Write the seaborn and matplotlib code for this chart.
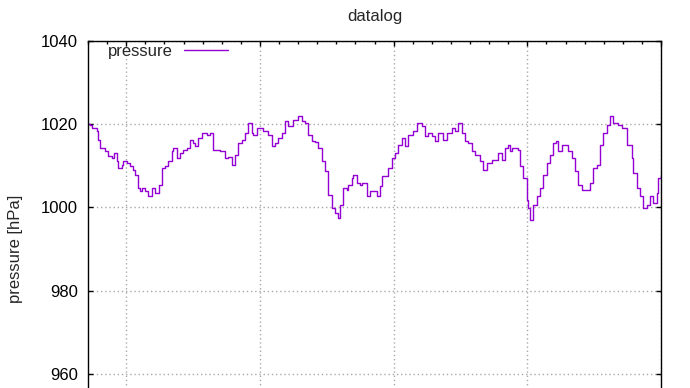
import matplotlib
matplotlib.use("Agg")
import matplotlib.pyplot as plt
from matplotlib.ticker import MultipleLocator
import seaborn as sns
import pandas as pd

# time axis (arbitrary units; major tick every 7, minor every 1)
t = [-1.99, -1.88, -1.78, -1.52, -1.47, -1.36, -1.20, -1.10, -0.94, -0.73,
     -0.63, -0.47, -0.42, -0.21, -0.16, 0.05, 0.21, 0.37, 0.47, 0.63,
     0.73, 0.84, 0.99, 1.15, 1.36, 1.52, 1.73, 1.88, 2.04, 2.20,
     2.41, 2.46, 2.67, 2.83, 2.98, 3.19, 3.35, 3.51, 3.61, 3.77,
     3.98, 4.24, 4.40,
     4.55, 4.92, 5.18, 5.34, 5.55, 5.71, 5.86, 6.07, 6.23, 6.39,
     6.60, 6.65, 6.86, 7.02, 7.17, 7.38, 7.43, 7.64, 7.80, 7.96,
     8.17, 8.32, 8.48, 8.69, 8.74, 9.01, 9.21, 9.37, 9.53, 9.74,
     9.90, 10.05, 10.26, 10.42, 10.58, 10.79, 10.94, 11.10, 11.20, 11.36,
     11.57, 11.62, 11.83, 11.88, 12.09, 12.25,
     12.36, 12.62, 12.77, 12.93, 13.14, 13.30, 13.40, 13.56, 13.72, 13.93,
     14.08, 14.24, 14.45, 14.61, 14.76, 15.03, 15.24, 15.50, 15.65, 15.81,
     16.02, 16.18, 16.34, 16.60, 16.81, 17.07, 17.23, 17.38, 17.59, 17.75,
     17.91, 18.12, 18.27, 18.43, 18.53, 18.69, 18.90, 19.16, 19.32, 19.48,
     19.69, 19.84, 20.00,
     20.10, 20.21, 20.37, 20.52, 20.63, 20.79, 21.00, 21.05, 21.15, 21.31,
     21.52, 21.68, 21.83, 22.04, 22.20, 22.36, 22.51, 22.62, 22.83, 22.98,
     23.14, 23.35, 23.51, 23.66, 23.87, 24.14, 24.29, 24.45, 24.66, 24.82,
     24.97, 25.18, 25.34, 25.50, 25.76, 25.97, 26.23, 26.49, 26.54, 26.75,
     26.91, 27.07, 27.28, 27.43, 27.59, 27.80, 27.85, 28.0]

pressure = [1020.0, 1019.8, 1019.0, 1018.3, 1016.2, 1014.2, 1014.2, 1013.5, 1012.3, 1011.8,
            1013.0, 1011.1, 1009.4, 1010.2, 1011.1, 1010.6, 1009.9, 1009.0, 1007.8, 1004.6,
            1003.8, 1004.6, 1003.8, 1002.6, 1004.6, 1003.4, 1005.3, 1009.4, 1009.9, 1011.1,
            1013.5, 1014.2, 1011.8, 1013.0, 1013.8, 1014.2, 1016.2, 1015.4, 1014.7, 1016.6,
            1017.8, 1017.4, 1017.8,
            1013.8, 1013.5, 1011.8, 1012.1, 1010.2, 1012.6, 1015.4, 1016.2, 1017.8, 1020.2,
            1017.8, 1017.4, 1019.0, 1019.0, 1018.3, 1018.3, 1017.4, 1014.7, 1015.4, 1016.6,
            1017.8, 1020.7, 1019.5, 1019.5, 1021.0, 1021.9, 1020.7, 1020.2, 1017.4, 1015.9,
            1015.7, 1014.2, 1011.1, 1008.8, 1002.9, 999.8, 998.6, 997.4, 1000.5, 1004.6,
            1004.1, 1005.3, 1007.0, 1007.8, 1005.8, 1005.3,
            1005.8, 1002.6, 1003.8, 1003.8, 1002.6, 1005.1, 1007.5, 1007.5, 1009.4, 1011.8,
            1013.0, 1015.0, 1016.6, 1014.7, 1017.4, 1018.3, 1020.2, 1019.5, 1017.1, 1017.8,
            1017.1, 1015.9, 1017.8, 1016.2, 1017.8, 1019.0, 1018.3, 1020.2, 1017.8, 1015.9,
            1015.4, 1013.5, 1012.6, 1012.6, 1011.1, 1009.0, 1010.6, 1011.4, 1011.4, 1013.0,
            1011.4, 1014.2, 1015.0,
            1013.5, 1014.2, 1014.2, 1013.8, 1009.9, 1007.0, 1001.7, 999.8, 996.9, 1000.5,
            1002.6, 1004.6, 1007.8, 1010.6, 1012.6, 1015.4, 1015.9, 1013.5, 1015.0, 1015.0,
            1013.5, 1011.8, 1008.8, 1005.3, 1004.1, 1004.1, 1005.8, 1009.4, 1010.2, 1015.0,
            1017.8, 1019.8, 1021.9, 1020.2, 1019.8, 1019.0, 1015.0, 1011.8, 1008.2, 1004.6,
            1002.6, 999.8, 1000.5, 1002.6, 1001.0, 1003.4, 1007.0, 1007.8]

title = "datalog"
ylabel = "pressure [hPa]"
series_name = "pressure"
y_ticks = [960, 980, 1000, 1020, 1040]

sns.set_style("white")
plt.rcParams["font.family"] = ["Liberation Sans", "DejaVu Sans"]
plt.rcParams["font.size"] = 12

df = pd.DataFrame({"t": t, "p": pressure})

fig = plt.figure(figsize=(6.9, 3.88), dpi=100)
ax = fig.add_axes([88 / 690, 0.8956 - 1.0745, 573 / 690, 1.0745])

sns.lineplot(data=df, x="t", y="p", ax=ax, color="#9400D3", linewidth=1.0,
             drawstyle="steps-post", estimator=None, sort=False, label=series_name)

ax.set_xlim(-2, 28)
ax.set_ylim(940, 1040)
ax.xaxis.set_major_locator(MultipleLocator(7))
ax.xaxis.set_minor_locator(MultipleLocator(1))
ax.set_yticks(y_ticks)
ax.set_yticklabels([str(v) for v in y_ticks])

ax.grid(True, which="major", color="#a8a8a8", linestyle=(0, (1, 2)), linewidth=1.0)
ax.tick_params(axis="both", which="both", direction="in", top=True, right=True,
               bottom=True, left=True, colors="black", labelsize=12)
ax.tick_params(axis="both", which="major", length=3.4, width=1.0, pad=7.2)
ax.tick_params(axis="both", which="minor", length=2.0, width=1.0)
ax.tick_params(axis="y", which="minor", left=False, right=False)
# x tick labels lie below the visible (cropped) part of the figure
ax.tick_params(axis="x", labelbottom=False)
for s in ax.spines.values():
    s.set_color("black")
    s.set_linewidth(1.0)
    s.set_visible(True)

ax.set_xlabel("")
ax.set_ylabel(ylabel, fontsize=12)
ax.yaxis.set_label_coords(-0.113, 0.5)
ax.set_title(title, fontsize=12, pad=14)

leg = ax.legend(loc="center left", bbox_to_anchor=(0.035, 1 - 0.026), frameon=False,
                markerfirst=False, handlelength=2.65, handletextpad=0.65,
                borderpad=0, borderaxespad=0, fontsize=12)

fig.savefig("out.png", dpi=100)
